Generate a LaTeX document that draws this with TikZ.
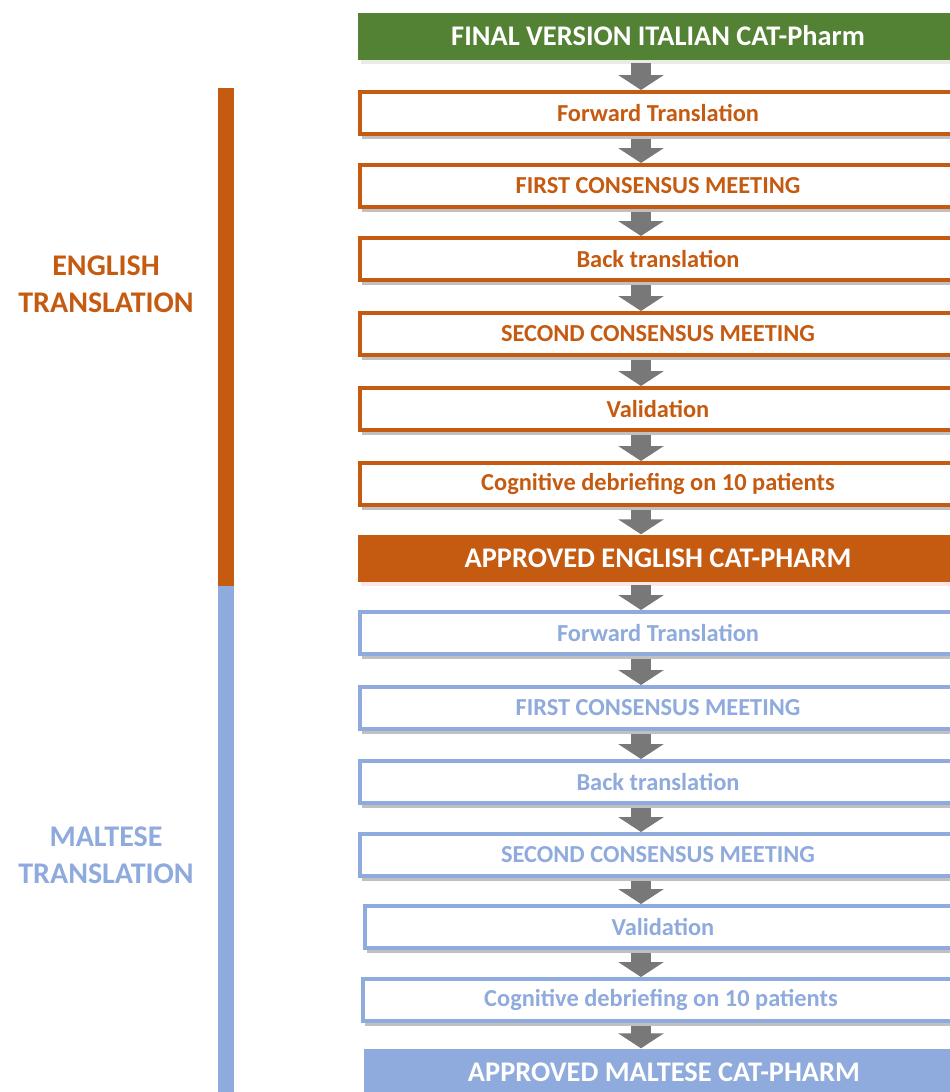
\documentclass[tikz,border=0pt]{standalone}
\usepackage{fontspec}
\setmainfont{Carlito}
\usetikzlibrary{arrows.meta,shadows}
\definecolor{cgreen}{RGB}{84,130,53}
\definecolor{corange}{RGB}{197,90,17}
\definecolor{cblue}{RGB}{143,170,220}
\definecolor{carrow}{RGB}{120,120,120}
\tikzset{
  box/.style={rectangle, minimum width=596pt, minimum height=42pt, line width=4pt, fill=white, inner sep=0pt,
    drop shadow={shadow xshift=2pt, shadow yshift=-5pt, opacity=0.45, fill=black!55}},
  stepE/.style={box, draw=corange, text=corange, font=\fontsize{24.4}{28}\selectfont\bfseries},
  stepM/.style={box, draw=cblue, text=cblue, font=\fontsize{24.4}{28}\selectfont\bfseries},
  headbox/.style={rectangle, minimum width=600pt, minimum height=47pt, inner sep=0pt, text=white,
    font=\fontsize{28.4}{32}\selectfont\bfseries},
  flow/.style={carrow, line width=20pt, -{Triangle[width=45pt,length=15pt]}},
  side/.style={align=center, font=\fontsize{30}{37}\selectfont\bfseries},
}
\begin{document}
\begin{tikzpicture}[x=1pt,y=-1pt]
\useasboundingbox (0,0) rectangle (950,1092);
\clip (0,0) rectangle (950,1092);
% side bars
\fill[corange] (218,88) rectangle (234,586);
\fill[cblue] (218,586) rectangle (234,1092);
\node[side, text=corange] (lE) at (106,284) {ENGLISH\\TRANSLATION};
\node[side, text=cblue] (lM) at (106,855) {MALTESE\\TRANSLATION};
% boxes
\node[headbox, fill=cgreen, drop shadow={shadow xshift=3pt, shadow yshift=-4pt, opacity=0.4, fill=cgreen!30!gray!40}] (top) at (658,36) {FINAL VERSION ITALIAN CAT-Pharm};
\node[stepE] (e1) at (658,113) {Forward Translation};
\node[stepE] (e2) at (658,186) {FIRST CONSENSUS MEETING};
\node[stepE] (e3) at (658,259) {Back translation};
\node[stepE] (e4) at (658,334) {SECOND CONSENSUS MEETING};
\node[stepE] (e5) at (658,409) {Validation};
\node[stepE] (e6) at (658,484) {Cognitive debriefing on 10 patients};
\node[headbox, fill=corange, drop shadow={shadow xshift=3pt, shadow yshift=-4pt, opacity=0.4, fill=red!25}] (appE) at (658,558) {APPROVED ENGLISH CAT-PHARM};
\node[stepM] (m1) at (658,633) {Forward Translation};
\node[stepM] (m2) at (658,708) {FIRST CONSENSUS MEETING};
\node[stepM] (m3) at (658,782) {Back translation};
\node[stepM] (m4) at (658,855) {SECOND CONSENSUS MEETING};
\node[stepM] (m5) at (663,927) {Validation};
\node[stepM] (m6) at (661,1000) {Cognitive debriefing on 10 patients};
\node[headbox, fill=cblue] (appM) at (664,1072) {APPROVED MALTESE CAT-PHARM};
% arrows
\coordinate (ax) at (641,0);
\foreach \a/\b in {top/e1,e1/e2,e2/e3,e3/e4,e4/e5,e5/e6,e6/appE,appE/m1,m1/m2,m2/m3,m3/m4,m4/m5,m5/m6,m6/appM}{
  \draw[flow] ([yshift=-3pt]\a.south -| ax) -- (\b.north -| ax);
}
\end{tikzpicture}
\end{document}
